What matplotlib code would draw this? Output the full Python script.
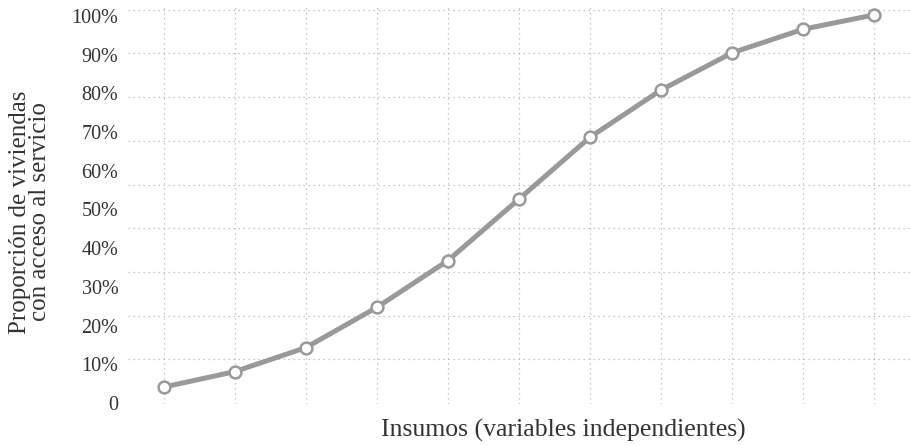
import numpy as np
import matplotlib
matplotlib.use("Agg")
import matplotlib.pyplot as plt
from matplotlib.ticker import FixedLocator

# ── Data ─────────────────────────────────────────────────────────────────────
insumos = list(range(11))
proporcion = [4.1, 8.1, 14.3, 24.7, 36.8, 52.7, 68.7, 80.9, 90.5, 96.6, 100.3]
ytick_vals = [0, 10, 20, 30, 40, 50, 60, 70, 80, 90, 100]
ytick_labels = ["0", "10%", "20%", "30%", "40%", "50%", "60%", "70%", "80%", "90%", "100%"]

plt.rcParams["font.family"] = ["Liberation Serif", "DejaVu Serif"]
TEXT = "#333333"
LINE = "#999999"
GRID = "#b5b5b5"

fig = plt.figure(figsize=(9.1, 4.45), dpi=100)
ax = fig.add_axes([128 / 910, 41 / 445, 782 / 910, 400 / 445])

ax.plot(insumos, proporcion, color=LINE, linewidth=3.6, zorder=3,
        marker="o", markersize=8.5, markerfacecolor="white",
        markeredgecolor=LINE, markeredgewidth=1.8)

ax.set_xlim(-0.5, 10.5)
ax.set_ylim(-0.26, 103.1)

# labels and grid lines are not aligned in the original
ax.set_yticks(ytick_vals)
ax.set_yticklabels(ytick_labels)
ax.yaxis.set_minor_locator(FixedLocator(np.linspace(0, 101.6, 10)))
ax.set_xticks(insumos)
ax.set_xticklabels([])

ax.grid(False)
ax.grid(axis="y", which="minor", linestyle=(0, (1, 3)), color=GRID, linewidth=0.9)
ax.grid(axis="x", which="major", linestyle=(0, (1, 3)), color=GRID, linewidth=0.9)

ax.tick_params(axis="both", which="both", length=0)
ax.tick_params(axis="y", pad=7, labelsize=14.5, labelcolor=TEXT)
for s in ax.spines.values():
    s.set_visible(False)

fig.text(563 / 910, 1 - 430 / 445, "Insumos (variables independientes)",
         ha="center", va="center", fontsize=18.5, color=TEXT)
fig.text(30 / 910, 1 - 212 / 445, "Proporción de viviendas\ncon acceso al servicio",
         ha="center", va="center", rotation=90, fontsize=18, color=TEXT,
         linespacing=0.92)

fig.savefig("out.png", dpi=100)
